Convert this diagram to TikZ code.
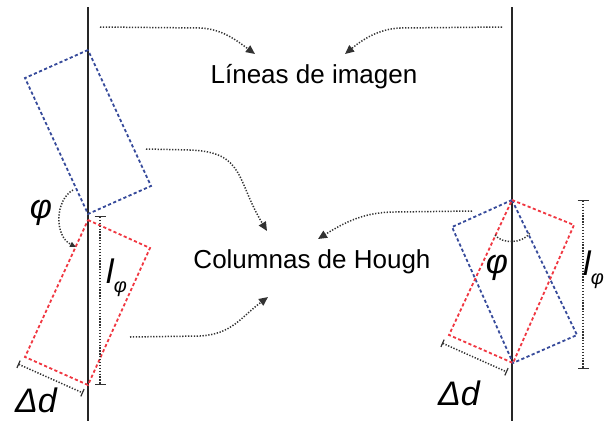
\documentclass[tikz,border=0pt]{standalone}
\usepackage{fontspec}
\setmainfont{Liberation Sans}
\usetikzlibrary{arrows.meta}
\definecolor{rblue}{RGB}{55,75,155}
\definecolor{rred}{RGB}{240,55,65}
\definecolor{dotgray}{RGB}{50,50,50}
\tikzset{
  vline/.style={line width=1.5pt,black!85},
  bluerect/.style={rblue,line width=1.8pt,dash pattern=on 3.2pt off 2.4pt},
  redrect/.style={rred,line width=1.8pt,dash pattern=on 3.2pt off 2.4pt},
  dotline/.style={dotgray,line width=1.5pt,dash pattern=on 1.3pt off 1.6pt},
  dotarrow/.style={dotline,-{Triangle[length=9pt,width=8pt,sep=0pt]}},
  dimline/.style={dotline,{Bar[width=11pt,line width=1.2pt]}-{Bar[width=11pt,line width=1.2pt]}},
  lbl/.style={font=\fontsize{26}{30}\selectfont,inner sep=0pt},
  sym/.style={font=\fontsize{34}{36}\selectfont\itshape,inner sep=0pt},
}
\begin{document}
\begin{tikzpicture}[x=1pt,y=-1pt]
\useasboundingbox (0,0) rectangle (605,421);
% vertical lines
\coordinate (LT) at (88,7);
\coordinate (LB) at (88,421);
\coordinate (RT) at (512,7);
\coordinate (RB) at (512,421);
\draw[vline] (LT) -- (LB);
\draw[vline] (RT) -- (RB);
% left rectangles
\coordinate (b1) at (88,50); \coordinate (b2) at (25,78);
\coordinate (b3) at (88,214); \coordinate (b4) at (151,186);
\draw[bluerect] (b1) -- (b2) -- (b3) -- (b4) -- cycle;
\coordinate (r1) at (88,220); \coordinate (r2) at (150,248);
\coordinate (r3) at (88,385); \coordinate (r4) at (25,357);
\draw[redrect] (r1) -- (r2) -- (r3) -- (r4) -- cycle;
% right rectangles
\coordinate (P) at (512,200); \coordinate (Q) at (513,363);
\coordinate (rb2) at (452,227); \coordinate (rb4) at (577,335);
\draw[bluerect] (P) -- (rb2) -- (Q) -- (rb4) -- cycle;
\coordinate (rr2) at (574,225); \coordinate (rr4) at (449,335);
\draw[redrect] (P) -- (rr2) -- (Q) -- (rr4) -- cycle;
% texts
\node[lbl] (lin) at (314,77) {Líneas de imagen};
\node[lbl] (col) at (312,262) {Columnas de Hough};
% connectors to Lineas
\coordinate (s1) at (100,27); \coordinate (t1) at (255,54);
\draw[dotarrow] (s1) -- (200,28) .. controls (222,29) and (236,40) .. (t1);
\coordinate (s2) at (502,27); \coordinate (t2) at (345,54);
\draw[dotarrow] (s2) -- (400,28) .. controls (378,29) and (362,40) .. (t2);
% connectors to Columnas
\coordinate (s3) at (146,149); \coordinate (t3) at (267,231);
\draw[dotarrow] (s3) -- (190,150) .. controls (245,152) and (236,180) .. (t3);
\coordinate (s4) at (130,337); \coordinate (t4) at (268,297);
\draw[dotarrow] (s4) -- (200,336) .. controls (232,334) and (240,318) .. (t4);
\coordinate (s5) at (472,211); \coordinate (t5) at (318,239);
\draw[dotarrow] (s5) -- (395,212) .. controls (365,212) and (345,222) .. (t5);
% left angle
\coordinate (a1) at (73,190); \coordinate (a2) at (76,247);
\draw[dotline,-{Triangle[length=6pt,width=5pt]}] (a1) .. controls (55,200) and (54,236) .. (a2);
\node[sym] (phiL) at (41,213) {φ};
% right angle
\coordinate (a3) at (495,235); \coordinate (a4) at (530,233);
\draw[dotline] (a3) .. controls (502,244) and (522,244) .. (a4);
\node[sym] (phiR) at (497,268) {φ};
% l_phi left
\coordinate (d1) at (100,216); \coordinate (d2) at (100,385);
\draw[dimline] (d1) -- (d2);
\node[sym,anchor=base west] (lL) at (106,283) {l\raisebox{-9pt}{\fontsize{20}{20}\selectfont φ}};
% l_phi right
\coordinate (d3) at (583,200); \coordinate (d4) at (583,369);
\draw[dimline] (d3) -- (d4);
\node[sym,anchor=base east] (lR) at (604,275) {l\raisebox{-9pt}{\fontsize{20}{20}\selectfont φ}};
% Delta d left
\coordinate (e1) at (18,364); \coordinate (e2) at (83,393);
\draw[dotline,{Bar[width=8pt,line width=1.2pt]}-{Bar[width=8pt,line width=1.2pt]}] (e1) -- (e2);
\node[sym] (ddL) at (36,400) {Δd};
% Delta d right
\coordinate (e3) at (442,343); \coordinate (e4) at (507,372);
\draw[dotline,{Bar[width=8pt,line width=1.2pt]}-{Bar[width=8pt,line width=1.2pt]}] (e3) -- (e4);
\node[sym] (ddR) at (459,393) {Δd};
\end{tikzpicture}
\end{document}
